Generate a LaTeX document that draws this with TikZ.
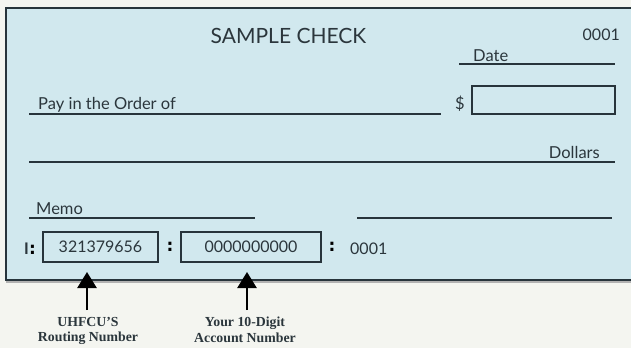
\documentclass[tikz,border=0pt]{standalone}
\usepackage{fontspec}
\setmainfont{Lato}
\newfontfamily\labelfont{Liberation Serif}
\newfontfamily\markfont{DejaVu Sans}
\usetikzlibrary{arrows.meta}
\definecolor{checkblue}{HTML}{D1E8EE}
\definecolor{paper}{HTML}{F4F5F0}
\definecolor{ink}{HTML}{2B363C}
\definecolor{linecol}{HTML}{27343B}
\begin{document}
\begin{tikzpicture}[x=1pt,y=-1pt]
		\tikzstyle{every node}=[inner sep=0pt,text=ink];
		\tikzstyle{field}=[font=\fontsize{16.5}{19}\selectfont,anchor=base west];
		\tikzstyle{ruled}=[draw=linecol,line width=1.4pt];
		\tikzstyle{micr}=[draw=linecol,line width=1.2pt,minimum height=30pt,font=\fontsize{16}{18}\selectfont];
		\tikzstyle{sep}=[font=\markfont\bfseries\fontsize{17}{19}\selectfont,text=black];
		\tikzstyle{caption}=[font=\labelfont\bfseries\fontsize{13.8}{15.5}\selectfont,align=center];
		\tikzstyle{pointer}=[line width=2.6pt,color=black,-{Triangle[width=19pt,length=16pt]}];
		% background and check
		\fill[paper] (0,0) rectangle (631,348);
		\useasboundingbox (0,0) rectangle (631,348);
		\begin{scope}
		\clip (0,0) rectangle (631,348);
		\fill[gray!60] (6,8) rectangle (640,282.5);
		\filldraw[fill=checkblue,draw=linecol,line width=1.8pt] (6,8) rectangle (640,280);
		\end{scope}
		% header
		\node[font=\fontsize{21}{24}\selectfont,anchor=base] (title) at (288.5,43) {SAMPLE CHECK};
		\node[font=\fontsize{16}{18}\selectfont,anchor=base east] (num) at (620,40) {0001};
		\node[field] (date) at (473,61) {Date};
		\node[field] (pay) at (38,109) {Pay in the Order of};
		\node[field] (dollar) at (455,109) {\$};
		\node[draw=linecol,line width=1.2pt,minimum width=143pt,minimum height=28pt] (amount) at (543.5,100) {};
		\node[field,anchor=base east] (dollars) at (600,158) {Dollars};
		\node[field] (memo) at (36,214) {Memo};
		\draw[ruled]
		(459,64) -- (615,64)
		(29,114) -- (441,114)
		(29,162) -- (615,162)
		(29,218) -- (255,218)
		(357,218) -- (612,218);
		% micr line
		\node[font=\fontsize{16}{18}\selectfont\bfseries,anchor=base west] (transit) at (24,254) {I};
		\node[sep,anchor=base west] (transit2) at (29,254) {:};
		\node[micr,minimum width=115pt] (routing) at (100.5,247) {321379656};
		\node[sep] (sep1) at (170,247) {:};
		\node[micr,minimum width=140pt] (account) at (251,247) {0000000000};
		\node[sep] (sep2) at (332,247) {:};
		\node[font=\fontsize{16}{18}\selectfont,anchor=base west] (chk) at (350,254) {0001};
		% captions below
		\node[caption,anchor=north] (rlabel) at (88,317) {UHFCU’S\\Routing Number};
		\node[caption,anchor=north] (alabel) at (245,317) {Your 10-Digit\\Account Number};
		\coordinate (rtip) at (87,272);
		\coordinate (atip) at (247,272);
		\draw[pointer] (87,310) -- (rtip);
		\draw[pointer] (247,310) -- (atip);
	\end{tikzpicture}
\end{document}
